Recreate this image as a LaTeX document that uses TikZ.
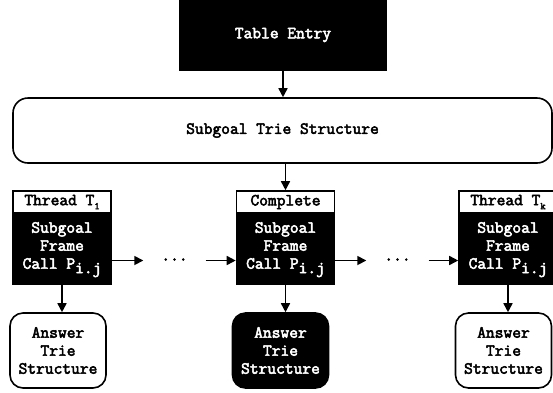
\documentclass[tikz,border=0pt]{standalone}
\usepackage{fontspec}
\newfontfamily\courfont{Latin Modern Mono}[FakeBold=3]
\usetikzlibrary{arrows.meta}
\newcommand{\subone}[1]{\raisebox{-4pt}{\fontsize{10}{10}\selectfont #1}}
\newcommand{\subij}{\raisebox{-4.5pt}{i.j}}
\begin{document}
\begin{tikzpicture}[x=1pt,y=-1pt,
  every node/.style={font=\courfont\fontsize{17}{18}\selectfont, inner sep=0pt},
  blackbox/.style={draw=black, fill=black, text=white, line width=1.6pt, align=center},
  whitebox/.style={draw=black, fill=white, text=black, line width=1.6pt, align=center},
  header/.style={whitebox, minimum width=98, minimum height=22},
  framebody/.style={blackbox, minimum width=98, minimum height=70},
  answer/.style={rounded corners=13pt, minimum width=96, minimum height=75, line width=1.6pt, align=center},
  dotsbox/.style={minimum width=62, text height=0pt, text depth=0pt},
  link/.style={line width=1.6pt, -{Triangle[length=9pt,width=9pt]}}]
\useasboundingbox (0,0) rectangle (553,392);

% table entry and subgoal trie
\node[blackbox, minimum width=206, minimum height=70] (entry) at (283,35) {Table Entry};
\node[whitebox, rounded corners=15pt, minimum width=539, minimum height=65] (strie) at (282.5,130.5) {Subgoal Trie Structure};

% subgoal frames
\node[header] (h1) at (62,202) {Thread T\subone{1}};
\node[framebody, anchor=north] (f1) at (h1.south) {Subgoal\\Frame\\Call P\subij};
\node[header] (h2) at (285.5,202) {Complete};
\node[framebody, anchor=north] (f2) at (h2.south) {Subgoal\\Frame\\Call P\subij};
\node[header] (h3) at (508,202) {Thread T\subone{k}};
\node[framebody, anchor=north] (f3) at (h3.south) {Subgoal\\Frame\\Call P\subij};

% answer tries
\node[answer, draw=black, fill=white] (a1) at (58,350.5) {Answer\\Trie\\Structure};
\node[answer, draw=black, fill=black, text=white] (a2) at (280.5,350.5) {Answer\\Trie\\Structure};
\node[answer, draw=black, fill=white] (a3) at (503.5,350.5) {Answer\\Trie\\Structure};

% elided frames
\node[dotsbox] (d1) at (174.5,260.5) {...};
\node[dotsbox] (d2) at (397.5,260.5) {...};

% connectors
\draw[link] (entry.south) -- (entry.south |- strie.north);
\draw[link] (h2.north |- strie.south) -- (h2.north);
\draw[link] (f1.east |- d1) -- (d1.west);
\draw[link] (d1.east) -- (f2.west |- d1);
\draw[link] (f2.east |- d2) -- (d2.west);
\draw[link] (d2.east) -- (f3.west |- d2);
\draw[link] (f1.south) -- (f1.south |- a1.north);
\draw[link] (f2.south) -- (f2.south |- a2.north);
\draw[link] (f3.south) -- (f3.south |- a3.north);
\end{tikzpicture}
\end{document}
